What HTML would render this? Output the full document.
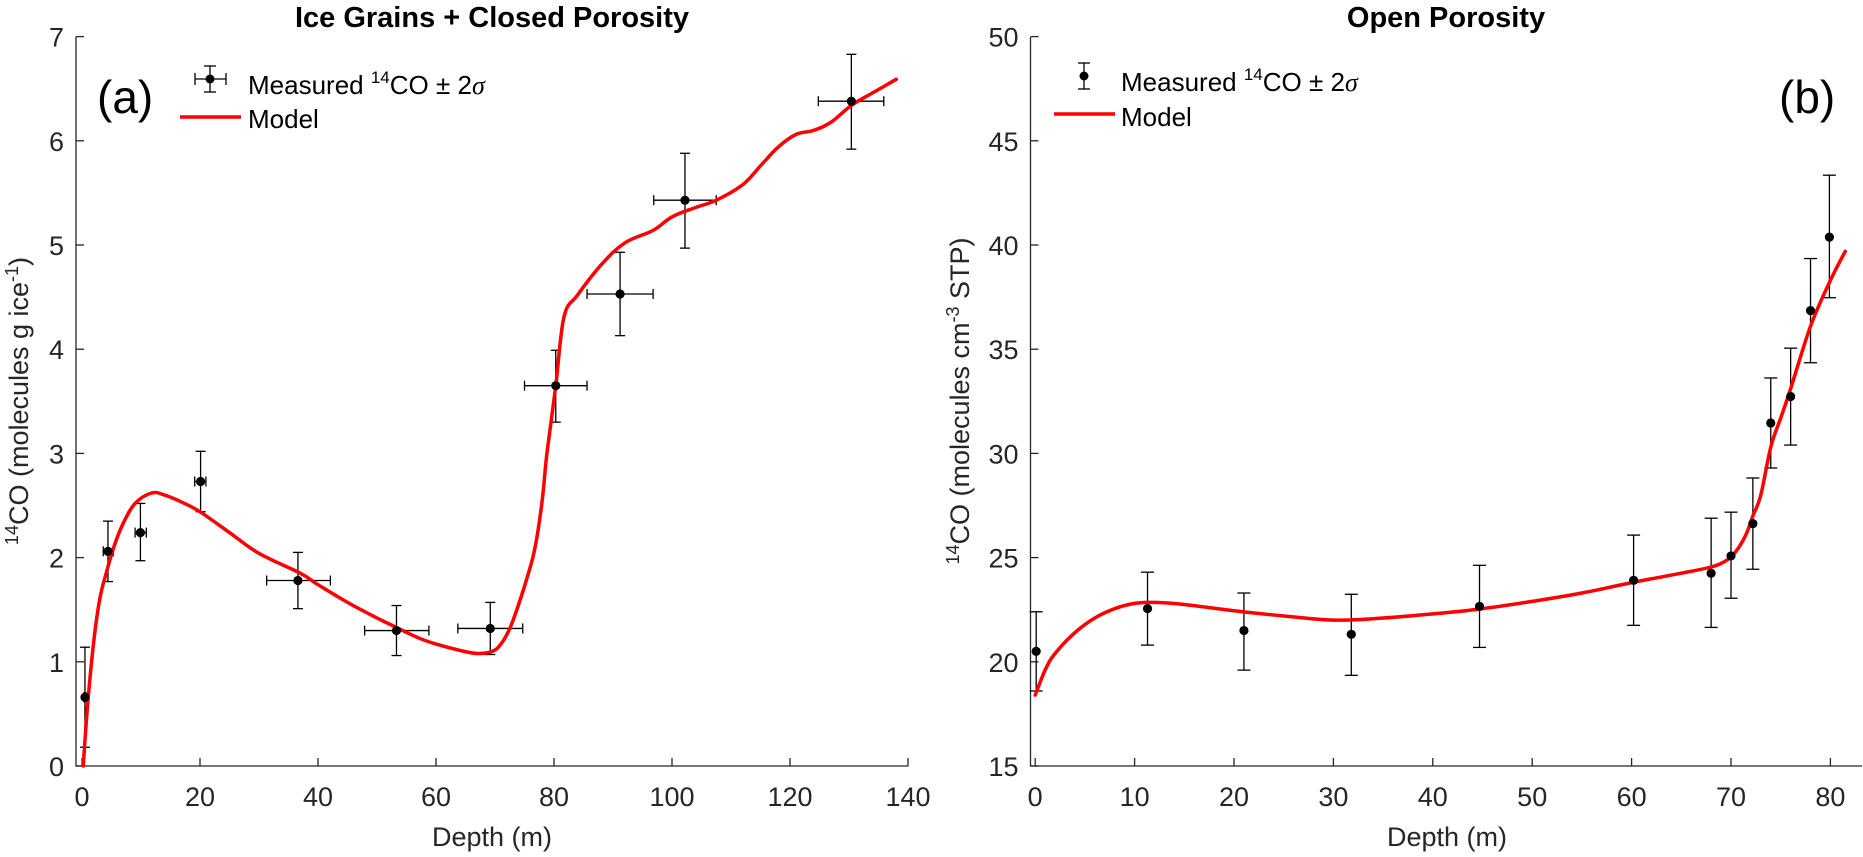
<!DOCTYPE html>
<html><head><meta charset="utf-8"><style>
html,body{margin:0;padding:0;background:#fff;}
svg{display:block;font-family:"Liberation Sans",Arial,sans-serif;}
</style></head><body>
<svg id="fig" width="1863" height="857" viewBox="0 0 1863 857" xmlns="http://www.w3.org/2000/svg">
<rect width="1863" height="857" fill="#fff"/>
<text x="492" y="27" font-size="29" font-weight="bold" text-anchor="middle" fill="#000">Ice Grains + Closed Porosity</text>
<text x="1446" y="27" font-size="29" font-weight="bold" text-anchor="middle" fill="#000">Open Porosity</text>
<text x="492" y="846" font-size="27" text-anchor="middle" fill="#262626">Depth (m)</text>
<text x="1447" y="846" font-size="27" text-anchor="middle" fill="#262626">Depth (m)</text>
<text transform="translate(28,401) rotate(-90)" font-size="27" text-anchor="middle" fill="#262626"><tspan font-size="18" dy="-10">14</tspan><tspan dy="10">CO (molecules g ice</tspan><tspan font-size="18" dy="-10">-1</tspan><tspan dy="10">)</tspan></text>
<text transform="translate(969,401) rotate(-90)" font-size="27" text-anchor="middle" fill="#262626"><tspan font-size="18" dy="-10">14</tspan><tspan dy="10">CO (molecules cm</tspan><tspan font-size="18" dy="-10">-3</tspan><tspan dy="10"> STP)</tspan></text>
<text x="97" y="113" font-size="46" fill="#000">(a)</text>
<text x="1779" y="113" font-size="46" fill="#000">(b)</text>
<g id="legA">
<line x1="195" y1="79" x2="226" y2="79" stroke="#000" stroke-width="1.3"/><line x1="195" y1="73" x2="195" y2="85" stroke="#000" stroke-width="1.3"/><line x1="226" y1="73" x2="226" y2="85" stroke="#000" stroke-width="1.3"/>
<line x1="210" y1="66" x2="210" y2="92" stroke="#000" stroke-width="1.3"/><line x1="204" y1="66" x2="216" y2="66" stroke="#000" stroke-width="1.3"/><line x1="204" y1="92" x2="216" y2="92" stroke="#000" stroke-width="1.3"/>
<circle cx="210" cy="79" r="4.5" fill="#000"/>
<text x="248" y="94" font-size="26" fill="#000">Measured <tspan font-size="17" dy="-11">14</tspan><tspan dy="11">CO ± 2</tspan><tspan font-style="italic" font-family="Liberation Serif,serif">σ</tspan></text>
<line x1="180" y1="117" x2="241" y2="117" stroke="#f00" stroke-width="3.5"/>
<text x="248" y="128" font-size="26" fill="#000">Model</text>
</g>
<g id="legB">
<line x1="1084" y1="63" x2="1084" y2="89" stroke="#000" stroke-width="1.3"/><line x1="1078" y1="63" x2="1090" y2="63" stroke="#000" stroke-width="1.3"/><line x1="1078" y1="89" x2="1090" y2="89" stroke="#000" stroke-width="1.3"/>
<circle cx="1084" cy="76" r="4.5" fill="#000"/>
<text x="1121" y="91" font-size="26" fill="#000">Measured <tspan font-size="17" dy="-11">14</tspan><tspan dy="11">CO ± 2</tspan><tspan font-style="italic" font-family="Liberation Serif,serif">σ</tspan></text>
<line x1="1054" y1="114" x2="1115" y2="114" stroke="#f00" stroke-width="3.5"/>
<text x="1121" y="126" font-size="26" fill="#000">Model</text>
</g>
<g id="plotA"></g>
<g id="plotB"></g>
</svg>
<script>
// ---- Panel (a) data ----
const aDepth = [0.5, 4.4, 9.9, 20.1, 36.6, 53.3, 69.2, 80.3, 91.2, 102.2, 130.4];
const aValue = [0.66, 2.06, 2.24, 2.73, 1.78, 1.30, 1.32, 3.65, 4.53, 5.43, 6.38];
const aErrLo = [0.18, 1.77, 1.97, 2.44, 1.51, 1.06, 1.07, 3.30, 4.13, 4.97, 5.92];
const aErrHi = [1.14, 2.35, 2.52, 3.02, 2.05, 1.54, 1.57, 3.99, 4.93, 5.88, 6.83];
const aXLo = [0.3, 3.6, 9.0, 19.1, 31.3, 47.9, 63.7, 75.0, 85.6, 96.9, 124.8];
const aXHi = [0.7, 5.3, 10.9, 21.0, 42.1, 58.8, 74.7, 85.6, 96.8, 107.5, 135.9];
const aModelX = [0.2,1.0,2.0,3.0,4.1,5.5,7,9,11.8,14,17,20,25,30,37,40,45,50,53.3,57,60,64,67,69.5,71,72.5,74,75.5,76.8,78,78.8,80.3,81.7,84,88,92,96.8,100,104,107.5,112,115,118,121,124,127,130.4,134,138];
const aModelY = [0,0.62,1.2,1.6,1.85,2.12,2.33,2.52,2.62,2.6,2.53,2.44,2.24,2.04,1.85,1.74,1.57,1.42,1.33,1.23,1.17,1.11,1.08,1.1,1.17,1.32,1.55,1.82,2.1,2.55,3.0,3.65,4.31,4.52,4.81,5.02,5.14,5.27,5.36,5.43,5.58,5.76,5.94,6.06,6.1,6.18,6.34,6.46,6.59];
const aXTicks = [0,20,40,60,80,100,120,140];
const aYTicks = [0,1,2,3,4,5,6,7];
// ---- Panel (b) data ----
const bDepth = [0.1, 11.3, 21.0, 31.8, 44.7, 60.2, 68.0, 70.0, 72.2, 74.0, 76.0, 78.0, 79.9];
const bValue = [20.5, 22.55, 21.5, 21.32, 22.66, 23.91, 24.25, 25.08, 26.63, 31.46, 32.73, 36.85, 40.38];
const bErrLo = [18.6, 20.8, 19.6, 19.35, 20.69, 21.75, 21.65, 23.05, 24.44, 29.30, 30.40, 34.35, 37.47];
const bErrHi = [22.4, 24.3, 23.3, 23.24, 24.63, 26.08, 26.89, 27.18, 28.82, 33.62, 35.05, 39.35, 43.35];
const bModelX = [0,1,2,4,6,8,10,12,15,20,25,30,35,40,44.7,50,55,60,65,68,69.5,70.5,71.5,72.2,73,74,75,76,78,80,81.5];
const bModelY = [18.4,19.6,20.4,21.4,22.1,22.55,22.8,22.85,22.75,22.45,22.2,22.0,22.1,22.3,22.53,22.9,23.3,23.8,24.25,24.55,24.85,25.3,26.1,27.0,28.0,30.3,31.7,33.1,36.1,38.3,39.7];
const bXTicks = [0,10,20,30,40,50,60,70,80];
const bYTicks = [15,20,25,30,35,40,45,50];

const NS = "http://www.w3.org/2000/svg";
function mk(parent, tag, attrs){const e=document.createElementNS(NS,tag);for(const k in attrs)e.setAttribute(k,attrs[k]);parent.appendChild(e);return e;}
function smoothPath(P){
  let d='M'+P[0][0].toFixed(1)+','+P[0][1].toFixed(1);
  for(let i=0;i<P.length-1;i++){
    const p0=P[i-1]||P[i], p1=P[i], p2=P[i+1], p3=P[i+2]||P[i+1];
    const t=0.18;
    const c1=[p1[0]+(p2[0]-p0[0])*t, p1[1]+(p2[1]-p0[1])*t];
    const c2=[p2[0]-(p3[0]-p1[0])*t, p2[1]-(p3[1]-p1[1])*t];
    d+=` C${c1[0].toFixed(1)},${c1[1].toFixed(1)} ${c2[0].toFixed(1)},${c2[1].toFixed(1)} ${p2[0].toFixed(1)},${p2[1].toFixed(1)}`;
  }
  return d;
}

function drawPanel(g, cfg){
  const sx = v => cfg.x0 + (v - cfg.xmin) * cfg.kx;
  const sy = v => cfg.y0 - (v - cfg.ymin) * cfg.ky;
  const axis = mk(g,'path',{d:`M${cfg.axL},${cfg.top} V${cfg.y0} H${cfg.axR}`,fill:'none',stroke:'#262626','stroke-width':1.3});
  
  
  cfg.xt.forEach(t=>{
    const x=sx(t);
    const tk=mk(g,'line',{x1:x,y1:cfg.y0,x2:x,y2:cfg.y0-8,stroke:'#262626','stroke-width':1.3});
    
    
    const lb=mk(g,'text',{x:x,y:cfg.y0+40,'font-size':27,'text-anchor':'middle',fill:'#262626'});
    lb.textContent=t;
    
    
  });
  cfg.yt.forEach(t=>{
    const y=sy(t);
    const tk=mk(g,'line',{x1:cfg.axL,y1:y,x2:cfg.axL+8,y2:y,stroke:'#262626','stroke-width':1.3});
    
    
    const lb=mk(g,'text',{x:cfg.axL-12,y:y+10,'font-size':27,'text-anchor':'end',fill:'#262626'});
    lb.textContent=t;
    
    
  });
  cfg.px.forEach((d,i)=>{
    const x=sx(d), y=sy(cfg.py[i]), st={stroke:'#000','stroke-width':1.3};
    const eg=mk(g,'g',{});
    
    
    const c=cfg.cap;
    mk(eg,'line',Object.assign({x1:x,y1:sy(cfg.lo[i]),x2:x,y2:sy(cfg.hi[i])},st));
    mk(eg,'line',Object.assign({x1:x-c,y1:sy(cfg.lo[i]),x2:x+c,y2:sy(cfg.lo[i])},st));
    mk(eg,'line',Object.assign({x1:x-c,y1:sy(cfg.hi[i]),x2:x+c,y2:sy(cfg.hi[i])},st));
    if(cfg.xlo){
      const xl=sx(cfg.xlo[i]), xh=sx(cfg.xhi[i]);
      mk(eg,'line',Object.assign({x1:xl,y1:y,x2:xh,y2:y},st));
      mk(eg,'line',Object.assign({x1:xl,y1:y-5,x2:xl,y2:y+5},st));
      mk(eg,'line',Object.assign({x1:xh,y1:y-5,x2:xh,y2:y+5},st));
    }
  });
  const P=cfg.mx.map((v,i)=>[sx(v),sy(cfg.my[i])]);
  const ml=mk(g,'path',{d:smoothPath(P),fill:'none',stroke:'#f00','stroke-width':3.5,'stroke-linejoin':'round','stroke-linecap':'round'});
  
  
  cfg.px.forEach((d,i)=>{
    const p=mk(g,'circle',{cx:sx(d),cy:sy(cfg.py[i]),r:4.6,fill:'#000'});
    
    
  });
}
drawPanel(document.getElementById('plotA'),{name:'left',x0:82,xmin:0,kx:5.9,y0:766,ymin:0,ky:104.2,axL:76,axR:908.3,top:36.7,
  xt:aXTicks,yt:aYTicks,px:aDepth,py:aValue,lo:aErrLo,hi:aErrHi,xlo:aXLo,xhi:aXHi,mx:aModelX,my:aModelY,cap:5});
drawPanel(document.getElementById('plotB'),{name:'right',x0:1035.2,xmin:0,kx:9.94,y0:766,ymin:15,ky:20.84,axL:1030.5,axR:1862,top:36.7,
  xt:bXTicks,yt:bYTicks,px:bDepth,py:bValue,lo:bErrLo,hi:bErrHi,mx:bModelX,my:bModelY,cap:6.5});
</script>
</body></html>
